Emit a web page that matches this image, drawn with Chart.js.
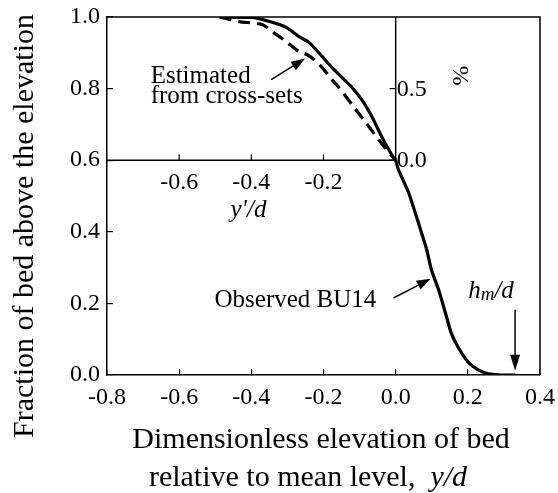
<!DOCTYPE html>
<html><head><meta charset="utf-8">
<script src="https://cdn.jsdelivr.net/npm/chart.js@4"></script>
<style>html,body{margin:0;padding:0;background:#fff}#wrap{width:558px;height:493px;position:relative}canvas{display:block}</style>
</head><body><div id="wrap"><canvas id="c" width="558" height="493" style="width:558px;height:493px"></canvas></div>
<script>
// ---- data ----
const xTickValues = [-0.8, -0.6, -0.4, -0.2, 0.0, 0.2, 0.4];
const yTickValues = [0.0, 0.2, 0.4, 0.6, 0.8, 1.0];
const insetXTickValues = [-0.6, -0.4, -0.2];
const insetYTickValues = [0.0, 0.5];

// main plot: observed BU14 (y/d, fraction)
const observedX = [0.000, 0.008, 0.036, 0.063, 0.086, 0.099, 0.119, 0.138, 0.154, 0.174, 0.201, 0.229, 0.257, 0.290, 0.331];
const observedY = [0.600, 0.573, 0.509, 0.425, 0.350, 0.294, 0.238, 0.173, 0.117, 0.076, 0.036, 0.014, 0.003, 0.000, 0.000];

// inset: observed (y'/d, %)
const insetObsX = [-0.480, -0.397, -0.342, -0.303, -0.268, -0.240, -0.204, -0.177, -0.149, -0.121, -0.094, -0.066, -0.039, -0.011, 0.000];
const insetObsY = [1.000, 0.997, 0.963, 0.927, 0.863, 0.823, 0.725, 0.648, 0.578, 0.508, 0.423, 0.305, 0.165, 0.038, 0.000];

// inset: estimated from cross-sets (y'/d, %)
const insetEstX = [-0.488, -0.433, -0.370, -0.342, -0.303, -0.268, -0.246, -0.226, -0.204, -0.177, -0.157, -0.121, -0.083, -0.047, -0.014, 0.000];
const insetEstY = [1.000, 0.968, 0.948, 0.898, 0.828, 0.758, 0.738, 0.703, 0.648, 0.563, 0.508, 0.388, 0.263, 0.143, 0.038, 0.000];

const hmOverD = 0.331;

const SERIF = "'Liberation Serif','Times New Roman',serif";
const toPts = (xs, ys) => xs.map((x, i) => ({x: x, y: ys[i]}));

function arrow(ctx, x1, y1, x2, y2, head, half) {
  const a = Math.atan2(y2 - y1, x2 - x1);
  ctx.beginPath();
  ctx.moveTo(x1, y1);
  ctx.lineTo(x2 - Math.cos(a) * head * 0.8, y2 - Math.sin(a) * head * 0.8);
  ctx.stroke();
  ctx.beginPath();
  ctx.moveTo(x2, y2);
  ctx.lineTo(x2 - head * Math.cos(a) + half * Math.sin(a), y2 - head * Math.sin(a) - half * Math.cos(a));
  ctx.lineTo(x2 - head * Math.cos(a) - half * Math.sin(a), y2 - head * Math.sin(a) + half * Math.cos(a));
  ctx.closePath();
  ctx.fill();
}

function zeroPad(s) { s.paddingTop = 0; s.paddingBottom = 0; s.paddingLeft = 0; s.paddingRight = 0; }

const decor = {
  id: 'decor',
  afterDraw(chart) {
    const ctx = chart.ctx;
    const xs = chart.scales.x, ys = chart.scales.y, yi = chart.scales.yIn;
    const ca = chart.chartArea;
    ctx.save();
    ctx.strokeStyle = '#000';
    ctx.fillStyle = '#000';
    ctx.lineWidth = 1.5;
    // frame
    ctx.beginPath();
    ctx.moveTo(ca.left, ca.top); ctx.lineTo(ca.right, ca.top); ctx.lineTo(ca.right, ca.bottom);
    ctx.stroke();
    // inset frame
    const ix0 = xs.getPixelForValue(-0.8), ix1 = xs.getPixelForValue(0);
    const iy0 = yi.getPixelForValue(0), iy1 = yi.getPixelForValue(1.0);
    ctx.beginPath();
    ctx.moveTo(ix0, iy0); ctx.lineTo(ix1, iy0); ctx.lineTo(ix1, iy1);
    ctx.stroke();
    ctx.lineWidth = 1.2;
    insetXTickValues.forEach(v => {
      const px = xs.getPixelForValue(v);
      ctx.beginPath(); ctx.moveTo(px, iy0); ctx.lineTo(px, iy0 - 6); ctx.stroke();
    });
    insetYTickValues.forEach(v => {
      const py = yi.getPixelForValue(v);
      ctx.beginPath(); ctx.moveTo(ix1, py); ctx.lineTo(ix1 - 6, py); ctx.stroke();
    });
    // inset labels
    ctx.font = '24px ' + SERIF;
    ctx.textAlign = 'center'; ctx.textBaseline = 'alphabetic';
    insetXTickValues.forEach(v => {
      ctx.fillText(v.toFixed(1), xs.getPixelForValue(v), iy0 + 29);
    });
    ctx.textAlign = 'left'; ctx.textBaseline = 'middle';
    insetYTickValues.forEach(v => {
      ctx.fillText(v.toFixed(1), ix1 + 1, yi.getPixelForValue(v) + 1);
    });
    ctx.font = 'italic 25px ' + SERIF;
    ctx.textAlign = 'center'; ctx.textBaseline = 'alphabetic';
    ctx.fillText("y'/d", xs.getPixelForValue(-0.408), iy0 + 57);
    // % label rotated
    ctx.save();
    ctx.translate(xs.getPixelForValue(0.175), yi.getPixelForValue(0.59));
    ctx.rotate(Math.PI / 2);
    ctx.font = '24px ' + SERIF;
    ctx.textAlign = 'center'; ctx.textBaseline = 'middle';
    ctx.fillText('%', 0, 0);
    ctx.restore();

    // annotations
    ctx.font = '25px ' + SERIF;
    ctx.textAlign = 'left'; ctx.textBaseline = 'alphabetic';
    ctx.fillText('Estimated', xs.getPixelForValue(-0.679), ys.getPixelForValue(0.817));
    ctx.fillText('from cross-sets', xs.getPixelForValue(-0.679), ys.getPixelForValue(0.761));
    ctx.fillText('Observed BU14', xs.getPixelForValue(-0.502), ys.getPixelForValue(0.190));
    ctx.lineWidth = 1.5;
    arrow(ctx, xs.getPixelForValue(-0.345), ys.getPixelForValue(0.825), xs.getPixelForValue(-0.251), ys.getPixelForValue(0.884), 14, 5);
    arrow(ctx, xs.getPixelForValue(-0.006), ys.getPixelForValue(0.215), xs.getPixelForValue(0.097), ys.getPixelForValue(0.269), 14, 5);
    arrow(ctx, xs.getPixelForValue(hmOverD), ys.getPixelForValue(0.182), xs.getPixelForValue(hmOverD), ys.getPixelForValue(0.012), 16, 5);
    // h_m/d
    let hx = xs.getPixelForValue(0.201), hy = ys.getPixelForValue(0.215);
    ctx.font = 'italic 25px ' + SERIF;
    ctx.fillText('h', hx, hy); hx += ctx.measureText('h').width;
    ctx.font = 'italic 19px ' + SERIF;
    ctx.fillText('m', hx, hy + 2); hx += ctx.measureText('m').width;
    ctx.font = 'italic 25px ' + SERIF;
    ctx.fillText('/d', hx, hy);

    // axis titles
    ctx.font = '30px ' + SERIF;
    ctx.save();
    ctx.translate(33, 226);
    ctx.rotate(-Math.PI / 2);
    ctx.textAlign = 'center'; ctx.textBaseline = 'alphabetic';
    ctx.fillText('Fraction of bed above the elevation', 0, 0);
    ctx.restore();
    ctx.textAlign = 'center';
    ctx.fillText('Dimensionless elevation of bed', 321, 448);
    const p1 = 'relative to mean level,  ';
    ctx.font = '30px ' + SERIF;
    const w1 = ctx.measureText(p1).width;
    ctx.font = 'italic 30px ' + SERIF;
    const w2 = ctx.measureText('y/d').width;
    const startX = 308 - (w1 + w2) / 2;
    ctx.textAlign = 'left';
    ctx.font = '30px ' + SERIF;
    ctx.fillText(p1, startX, 486);
    ctx.font = 'italic 30px ' + SERIF;
    ctx.fillText('y/d', startX + w1, 486);
    ctx.restore();
  }
};

new Chart(document.getElementById('c'), {
  type: 'scatter',
  data: {
    datasets: [
      {label: 'Observed BU14', data: toPts(observedX, observedY), yAxisID: 'y',
       showLine: true, borderColor: '#000', borderWidth: 3.2, pointRadius: 0, tension: 0.2, fill: false},
      {label: 'Observed BU14 (inset)', data: toPts(insetObsX, insetObsY), yAxisID: 'yIn',
       showLine: true, borderColor: '#000', borderWidth: 3.2, pointRadius: 0, tension: 0.2, fill: false},
      {label: 'Estimated from cross-sets', data: toPts(insetEstX, insetEstY), yAxisID: 'yIn',
       showLine: true, borderColor: '#000', borderWidth: 3.2, borderDash: [12, 7], pointRadius: 0, tension: 0.2, fill: false}
    ]
  },
  options: {
    responsive: false,
    maintainAspectRatio: false,
    animation: false,
    devicePixelRatio: 1,
    layout: {padding: {left: 0, top: 17, right: 18, bottom: 0}},
    plugins: {legend: {display: false}, tooltip: {enabled: false}},
    scales: {
      x: {
        type: 'linear', min: -0.8, max: 0.4,
        afterFit: s => { s.height = 118; zeroPad(s); },
        afterBuildTicks: s => { s.ticks = xTickValues.map(v => ({value: v})); },
        ticks: {callback: v => Number(v).toFixed(1), color: '#000', padding: 14, maxRotation: 0,
                font: {family: SERIF, size: 24}},
        grid: {drawOnChartArea: false, tickLength: -6, color: '#000', lineWidth: 1.2},
        border: {color: '#000', width: 1.5}
      },
      y: {
        type: 'linear', min: 0, max: 1.0,
        afterFit: s => { s.width = 107; zeroPad(s); },
        afterBuildTicks: s => { s.ticks = yTickValues.map(v => ({value: v})); },
        ticks: {callback: v => Number(v).toFixed(1), color: '#000', padding: 13,
                font: {family: SERIF, size: 24}},
        grid: {drawOnChartArea: false, tickLength: -6, color: '#000', lineWidth: 1.2},
        border: {color: '#000', width: 1.5}
      },
      yIn: {
        type: 'linear', min: -1.5, max: 1.0, display: false
      }
    }
  },
  plugins: [decor]
});
</script></body></html>
